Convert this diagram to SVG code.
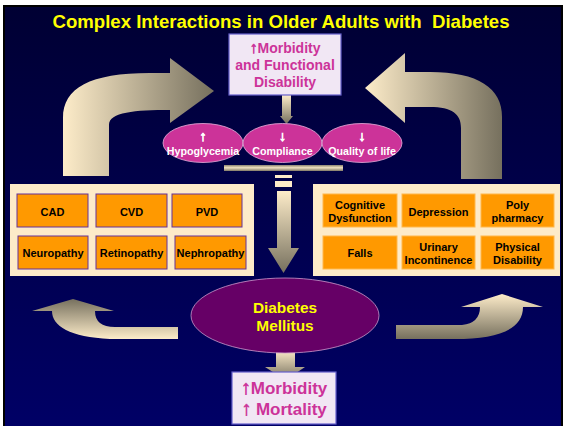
<svg xmlns="http://www.w3.org/2000/svg" width="565" height="426" viewBox="0 0 565 426">
<defs>
<linearGradient id="bg" x1="0" y1="0" x2="0" y2="1"><stop offset="0" stop-color="#000033"/><stop offset="1" stop-color="#000066"/></linearGradient>
<linearGradient id="gH" x1="0" y1="0" x2="1" y2="0"><stop offset="0" stop-color="#fdecc9"/><stop offset="1" stop-color="#76705e"/></linearGradient>
<linearGradient id="gV" x1="0" y1="0" x2="0" y2="1"><stop offset="0" stop-color="#fdecc9"/><stop offset="1" stop-color="#76705e"/></linearGradient>
<linearGradient id="gVr" x1="0" y1="1" x2="0" y2="0"><stop offset="0" stop-color="#fdecc9"/><stop offset="1" stop-color="#76705e"/></linearGradient>
<linearGradient id="gBar" x1="0" y1="0" x2="0" y2="1"><stop offset="0" stop-color="#8a8270"/><stop offset="0.45" stop-color="#efe0bf"/><stop offset="1" stop-color="#807866"/></linearGradient>
<style>
text{font-family:"Liberation Sans",Arial,sans-serif;font-weight:bold;text-anchor:middle}
.title{fill:#ffff00;font-size:18.6px}
.mag{fill:#cc3399}
.tb{font-size:14px}
.bb{font-size:17px}
.mar{stroke:#cc3399;stroke-width:0.6}
.t15{font-size:16px}
.t19{font-size:20px}
.lav{fill:#f1e7f4;stroke:#6660cc;stroke-width:1.2}
.ell{fill:#cc3399;stroke:#e8b0dc;stroke-width:0.8}
.et{fill:#ffffff;font-size:10.7px}
.ea{fill:#ffffff;font-size:14px;stroke:#ffffff;stroke-width:0.8}
.panel{fill:#fdebc9}
.ob{fill:#ff9900;stroke:#663399;stroke-width:1}
.ob2{fill:#ff9900;stroke:#ffb84d;stroke-width:1}
.bt{fill:#000000;font-size:11px}
.dm{fill:#ffff00;font-size:15.4px}
</style>
</defs>
<rect width="565" height="426" fill="#ffffff"/>
<rect x="4" y="6" width="558" height="422" fill="url(#bg)" stroke="#000000" stroke-width="2"/>
<text class="title" x="281" y="28">Complex Interactions in Older Adults with&#160; Diabetes</text>

<g id="connectors">
<path d="M63,176 L63,118 C63,88 90,73 150,73 L170,73 L170,58 L214,91 L170,123 L170,110 C135,110 109,112 109,125 L109,176 Z" fill="url(#gH)"/>
<path d="M502,179 L502,117 C502,88 478,72 430,72 L405,72 L405,53 L365,88 L405,123 L405,107 L430,107 C452,107 461,114 461,128 L461,179 Z" fill="url(#gH)"/>
<path d="M282,95 L291,95 L291,116 L293,116 L286.5,124 L280,116 L282,116 Z" fill="url(#gV)"/>
<rect x="275" y="175" width="17" height="3" fill="#fdecc9"/>
<rect x="275" y="181" width="17" height="6" fill="#fdecc9"/>
<path d="M277,191 L291,191 L291,248 L299,248 L283.5,273 L268,248 L277,248 Z" fill="url(#gV)"/>
<path d="M276,350 L295,350 L295,367 L305,367 L285.5,380 L265,367 L276,367 Z" fill="url(#gV)"/>
<path d="M32,311 L73,299 L114,311 L95,311 Q95,327 115,327 L178,327 L178,339 L110,339 C70,337 52,326 52,311 Z" fill="url(#gVr)"/>
<path d="M396,325 L462,325 Q480,323 480,307 L461,307 L502,294 L543,307 L523,307 C523,330 497,339 455,339 L396,339 Z" fill="url(#gV)"/>
</g>

<g id="top-box">
<rect class="lav" x="229" y="34" width="112" height="61"/>
<text class="mag tb" x="285" y="53"><tspan class="mar t15">↑</tspan>Morbidity</text>
<text class="mag tb" x="285" y="70">and Functional</text>
<text class="mag tb" x="285" y="87">Disability</text>
</g>

<g id="hypoglycemia">
<ellipse class="ell" cx="203" cy="143" rx="40" ry="19.5"/>
<text class="ea" x="203" y="141">↑</text>
<text class="et" x="203" y="155">Hypoglycemia</text>
</g>
<g id="compliance">
<ellipse class="ell" cx="282.5" cy="143" rx="39.5" ry="19.5"/>
<text class="ea" x="282.5" y="141">↓</text>
<text class="et" x="282.5" y="155">Compliance</text>
</g>
<g id="quality-of-life">
<ellipse class="ell" cx="362" cy="143" rx="40" ry="19.5"/>
<text class="ea" x="362" y="141">↓</text>
<text class="et" x="362" y="155">Quality of life</text>
</g>
<g id="bar">
<rect x="224" y="165" width="119" height="6" fill="url(#gBar)"/>
</g>

<g id="left-panel">
<rect class="panel" x="10" y="184" width="244" height="92"/>
<g id="cad"><rect class="ob" x="17" y="194" width="71" height="33"/><text class="bt" x="52.5" y="216">CAD</text></g>
<g id="cvd"><rect class="ob" x="96" y="194" width="71" height="33"/><text class="bt" x="131.5" y="216">CVD</text></g>
<g id="pvd"><rect class="ob" x="172" y="194" width="70" height="33"/><text class="bt" x="207" y="216">PVD</text></g>
<g id="neuropathy"><rect class="ob" x="18" y="236" width="70" height="33"/><text class="bt" x="53" y="257">Neuropathy</text></g>
<g id="retinopathy"><rect class="ob" x="96" y="236" width="71" height="33"/><text class="bt" x="131.5" y="257">Retinopathy</text></g>
<g id="nephropathy"><rect class="ob" x="175" y="236" width="71" height="33"/><text class="bt" x="210.5" y="257">Nephropathy</text></g>
</g>

<g id="right-panel">
<rect class="panel" x="313" y="184" width="247" height="92"/>
<g id="cognitive"><rect class="ob2" x="323" y="194" width="74" height="33"/><text class="bt" x="360" y="209">Cognitive</text><text class="bt" x="360" y="222">Dysfunction</text></g>
<g id="depression"><rect class="ob2" x="402" y="194" width="73" height="33"/><text class="bt" x="438.5" y="216">Depression</text></g>
<g id="polypharmacy"><rect class="ob2" x="481" y="194" width="73" height="33"/><text class="bt" x="517.5" y="209">Poly</text><text class="bt" x="517.5" y="222">pharmacy</text></g>
<g id="falls"><rect class="ob2" x="323" y="236" width="74" height="33"/><text class="bt" x="360" y="257">Falls</text></g>
<g id="urinary"><rect class="ob2" x="402" y="236" width="73" height="33"/><text class="bt" x="438.5" y="251">Urinary</text><text class="bt" x="438.5" y="264">Incontinence</text></g>
<g id="physical"><rect class="ob2" x="481" y="236" width="73" height="33"/><text class="bt" x="517.5" y="251">Physical</text><text class="bt" x="517.5" y="264">Disability</text></g>
</g>

<g id="diabetes-mellitus">
<ellipse cx="285" cy="315.5" rx="94" ry="37.5" fill="#660066" stroke="#cc99cc" stroke-width="0.8"/>
<text class="dm" x="285" y="312.5">Diabetes</text>
<text class="dm" x="285" y="330.5">Mellitus</text>
</g>

<g id="bottom-box">
<rect class="lav" x="232" y="372" width="104" height="52"/>
<text class="mag bb" x="284" y="394"><tspan class="mar t19">↑</tspan>Morbidity</text>
<text class="mag bb" x="284" y="415"><tspan class="mar t19">↑</tspan> Mortality</text>
</g>
</svg>
